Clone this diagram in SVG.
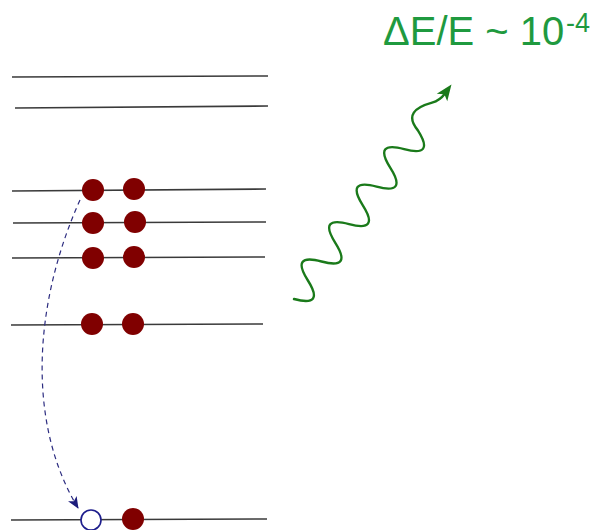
<svg xmlns="http://www.w3.org/2000/svg" width="603" height="530" viewBox="0 0 603 530">
<defs>
<style>
.lvl{stroke:#3a3a3a;stroke-width:1.6;fill:none}
.e{fill:#800000}
.t{font-family:"Liberation Sans",Arial,sans-serif;fill:#1f9a3f}
</style>
<marker id="nav" viewBox="0 0 12 10" refX="11" refY="5" markerWidth="12" markerHeight="10" markerUnits="userSpaceOnUse" orient="auto">
<path d="M0,0 L12,5 L0,10 L3,5 Z" fill="#1c1c7c"/>
</marker>
</defs>
<g id="levels">
<line class="lvl" x1="12" y1="77" x2="268" y2="76"/>
<line class="lvl" x1="15" y1="108" x2="268" y2="106"/>
<line class="lvl" x1="12" y1="191" x2="266" y2="189"/>
<line class="lvl" x1="13" y1="223" x2="266" y2="222"/>
<line class="lvl" x1="12" y1="258" x2="265" y2="257"/>
<line class="lvl" x1="11" y1="325" x2="263" y2="324"/>
<line class="lvl" x1="11" y1="520" x2="267" y2="519"/>
</g>
<g id="electrons">
<circle class="e" cx="93" cy="190" r="11"/>
<circle class="e" cx="134" cy="189" r="11"/>
<circle class="e" cx="93" cy="223" r="11"/>
<circle class="e" cx="135" cy="222" r="11"/>
<circle class="e" cx="93" cy="258" r="11"/>
<circle class="e" cx="134" cy="257" r="11"/>
<circle class="e" cx="92" cy="324" r="11"/>
<circle class="e" cx="133" cy="324" r="11"/>
<circle class="e" cx="133" cy="519" r="11"/>
</g>
<g id="hole">
<circle cx="91" cy="520" r="10" fill="#fff" stroke="#1c1c8c" stroke-width="1.6"/>
</g>
<g id="connectors">
<path d="M80,200 C35,300 25,420 78,508" fill="none" stroke="#2c2c80" stroke-width="1.2" stroke-dasharray="5,4" marker-end="url(#nav)"/>
<g transform="translate(294,299) rotate(-53.7)">
<path d="M0,0 q11.6,30 23.25,0 t23.25,0 t23.25,0 t23.25,0 t23.25,0 t23.25,0 t23.25,0 t23.25,0 t23.25,0 C214,-19 226,-16 240,-5 C245,-1 250,0 254,0" fill="none" stroke="#1a7a1a" stroke-width="2.4" stroke-linecap="round"/>
<path d="M266,0 L250,-6.5 L254,0 L250,6.5 Z" fill="#1a7a1a"/>
</g>
</g>
<g id="label">
<text class="t" x="383" y="45" font-size="40">ΔE/E ~ 10</text>
<text class="t" x="566" y="32" font-size="27">-4</text>
</g>
</svg>
